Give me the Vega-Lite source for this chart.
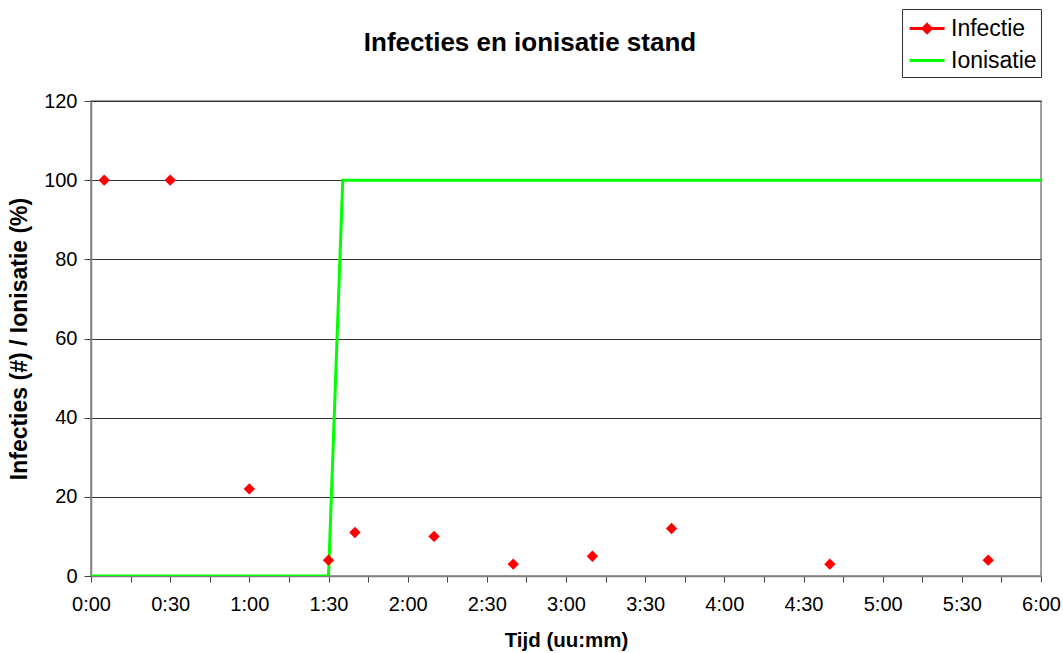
{
  "$schema": "https://vega.github.io/schema/vega-lite/v6.json",
  "width": 950,
  "height": 475,
  "autosize": {"type": "none"},
  "padding": {"left": 91, "top": 101, "right": 22, "bottom": 77},
  "background": "white",
  "config": {
    "font": "Liberation Sans",
    "view": {"stroke": "#808080", "strokeWidth": 1.5},
    "axis": {"labelFont": "Liberation Sans", "titleFont": "Liberation Sans", "labelColor": "black", "titleColor": "black"}
  },
  "title": {
    "text": "Infecties en ionisatie stand",
    "fontSize": 26,
    "fontWeight": "bold",
    "font": "Liberation Sans",
    "color": "black",
    "anchor": "middle",
    "frame": "group",
    "baseline": "alphabetic",
    "offset": 0,
    "dy": 68,
    "dx": -36
  },
  "datasets": {
    "infectie": [
      {"t": 5, "v": 100, "series": "Infectie"},
      {"t": 30, "v": 100, "series": "Infectie"},
      {"t": 60, "v": 22, "series": "Infectie"},
      {"t": 90, "v": 4, "series": "Infectie"},
      {"t": 100, "v": 11, "series": "Infectie"},
      {"t": 130, "v": 10, "series": "Infectie"},
      {"t": 160, "v": 3, "series": "Infectie"},
      {"t": 190, "v": 5, "series": "Infectie"},
      {"t": 220, "v": 12, "series": "Infectie"},
      {"t": 280, "v": 3, "series": "Infectie"},
      {"t": 340, "v": 4, "series": "Infectie"}
    ],
    "ionisatie": [
      {"t": 0, "v": 0, "series": "Ionisatie"},
      {"t": 90, "v": 0, "series": "Ionisatie"},
      {"t": 95.4, "v": 100, "series": "Ionisatie"},
      {"t": 360, "v": 100, "series": "Ionisatie"}
    ]
  },
  "encoding": {
    "x": {
      "field": "t",
      "type": "quantitative",
      "scale": {"domain": [0, 360], "nice": false, "zero": false},
      "axis": {
        "title": "Tijd (uu:mm)",
        "titleFontSize": 20.5,
        "titleFontWeight": "bold",
        "titlePadding": 16,
        "values": [0,15,30,45,60,75,90,105,120,135,150,165,180,195,210,225,240,255,270,285,300,315,330,345,360],
        "labelExpr": "datum.value % 30 == 0 ? floor(datum.value/60) + ':' + (datum.value % 60 == 0 ? '00' : '30') : ''",
        "labelFontSize": 20,
        "labelPadding": 12,
        "labelFlush": false,
        "labelOverlap": false,
        "tickSize": 6,
        "tickColor": "#444",
        "domainColor": "#808080",
        "domainWidth": 1.5,
        "grid": false
      }
    },
    "y": {
      "field": "v",
      "type": "quantitative",
      "scale": {"domain": [0, 120], "nice": false},
      "axis": {
        "title": "Infecties (#) / Ionisatie (%)",
        "titleFontSize": 23,
        "titleFontWeight": "bold",
        "titlePadding": 12,
        "values": [0, 20, 40, 60, 80, 100, 120],
        "labelFontSize": 20,
        "labelPadding": 7,
        "tickSize": 7,
        "tickColor": "#444",
        "domainColor": "#808080",
        "domainWidth": 1.5,
        "grid": true,
        "gridColor": "#333",
        "gridWidth": 1
      }
    },
    "color": {
      "field": "series",
      "type": "nominal",
      "scale": {"domain": ["Infectie", "Ionisatie"], "range": ["#ff0000", "#00ff00"]},
      "legend": {
        "orient": "none",
        "legendX": 811,
        "legendY": -92,
        "title": null,
        "strokeColor": "#333",
        "padding": 4,
        "labelFontSize": 23,
        "labelFont": "Liberation Sans",
        "labelColor": "black",
        "labelOffset": 14,
        "rowPadding": 4,
        "symbolSize": 784,
        "symbolStrokeWidth": 3,
        "fillColor": "white",
        "encode": {
          "symbols": {
            "update": {
              "shape": {"signal": "datum.value === 'Infectie' ? 'M-0.85,0H1.65M0.4,-0.29L0.69,0L0.4,0.29L0.11,0Z' : 'M-0.85,0H1.65'"},
              "fill": {"signal": "datum.value === 'Infectie' ? '#ff0000' : 'transparent'"},
              "stroke": {"signal": "datum.value === 'Infectie' ? '#ff0000' : '#00ff00'"},
              "strokeWidth": {"value": 3},
              "opacity": {"value": 1}
            }
          }
        }
      }
    }
  },
  "layer": [
    {
      "data": {"name": "ionisatie"},
      "mark": {"type": "line", "strokeWidth": 3, "clip": true}
    },
    {
      "data": {"name": "infectie"},
      "mark": {"type": "point", "shape": "diamond", "filled": true, "size": 130, "opacity": 1}
    }
  ]
}
